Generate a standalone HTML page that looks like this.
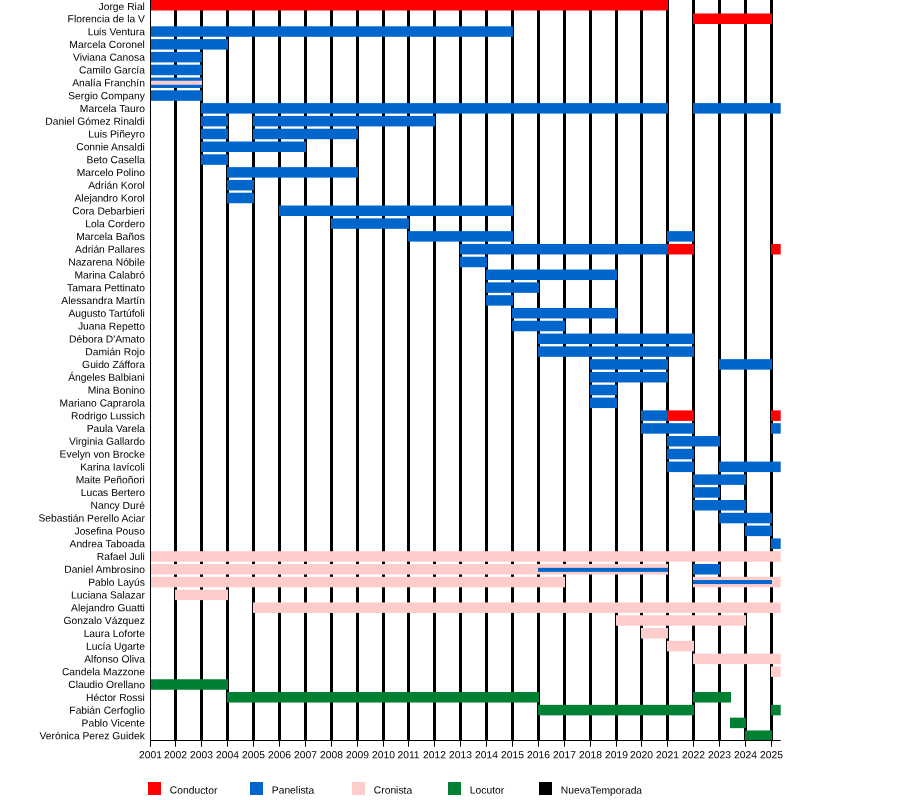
<!DOCTYPE html>
<html><head><meta charset="utf-8"><title>Timeline</title>
<style>html,body{margin:0;padding:0;background:#fff;width:900px;height:800px;overflow:hidden}svg{display:block;will-change:transform}</style>
</head><body>
<svg width="900" height="800" viewBox="0 0 900 800">
<rect width="900" height="800" fill="#fff"/>
<g>
<rect x="174" y="0" width="3" height="740" fill="#000"/>
<rect x="200" y="0" width="3" height="740" fill="#000"/>
<rect x="226" y="0" width="3" height="740" fill="#000"/>
<rect x="252" y="0" width="3" height="740" fill="#000"/>
<rect x="278" y="0" width="3" height="740" fill="#000"/>
<rect x="304" y="0" width="3" height="740" fill="#000"/>
<rect x="330" y="0" width="3" height="740" fill="#000"/>
<rect x="356" y="0" width="3" height="740" fill="#000"/>
<rect x="382" y="0" width="3" height="740" fill="#000"/>
<rect x="407" y="0" width="3" height="740" fill="#000"/>
<rect x="433" y="0" width="3" height="740" fill="#000"/>
<rect x="459" y="0" width="3" height="740" fill="#000"/>
<rect x="485" y="0" width="3" height="740" fill="#000"/>
<rect x="511" y="0" width="3" height="740" fill="#000"/>
<rect x="537" y="0" width="3" height="740" fill="#000"/>
<rect x="563" y="0" width="3" height="740" fill="#000"/>
<rect x="589" y="0" width="3" height="740" fill="#000"/>
<rect x="615" y="0" width="3" height="740" fill="#000"/>
<rect x="640" y="0" width="3" height="740" fill="#000"/>
<rect x="666" y="0" width="3" height="740" fill="#000"/>
<rect x="692" y="0" width="3" height="740" fill="#000"/>
<rect x="718" y="0" width="3" height="740" fill="#000"/>
<rect x="744" y="0" width="3" height="740" fill="#000"/>
<rect x="770" y="0" width="3" height="740" fill="#000"/>
<rect x="150" y="0.00" width="518.00" height="10.5" fill="#ff0000"/>
<rect x="693" y="13.48" width="79.00" height="10.5" fill="#ff0000"/>
<rect x="150" y="26.29" width="363.00" height="10.5" fill="#0066cc"/>
<rect x="150" y="39.09" width="78.00" height="10.5" fill="#0066cc"/>
<rect x="150" y="51.89" width="52.00" height="10.5" fill="#0066cc"/>
<rect x="150" y="64.70" width="52.00" height="10.5" fill="#0066cc"/>
<rect x="150" y="77.50" width="52.00" height="10.5" fill="#0066cc"/>
<rect x="150" y="80.75" width="52.00" height="4" fill="#ffcccc"/>
<rect x="150" y="90.30" width="52.00" height="10.5" fill="#0066cc"/>
<rect x="201" y="103.10" width="467.00" height="10.5" fill="#0066cc"/>
<rect x="693" y="103.10" width="87.70" height="10.5" fill="#0066cc"/>
<rect x="201" y="115.91" width="27.00" height="10.5" fill="#0066cc"/>
<rect x="253" y="115.91" width="182.00" height="10.5" fill="#0066cc"/>
<rect x="201" y="128.71" width="27.00" height="10.5" fill="#0066cc"/>
<rect x="253" y="128.71" width="105.00" height="10.5" fill="#0066cc"/>
<rect x="201" y="141.51" width="105.00" height="10.5" fill="#0066cc"/>
<rect x="201" y="154.32" width="27.00" height="10.5" fill="#0066cc"/>
<rect x="227" y="167.12" width="131.00" height="10.5" fill="#0066cc"/>
<rect x="227" y="179.92" width="27.00" height="10.5" fill="#0066cc"/>
<rect x="227" y="192.73" width="27.00" height="10.5" fill="#0066cc"/>
<rect x="279" y="205.53" width="234.00" height="10.5" fill="#0066cc"/>
<rect x="331" y="218.33" width="78.00" height="10.5" fill="#0066cc"/>
<rect x="408" y="231.13" width="105.00" height="10.5" fill="#0066cc"/>
<rect x="667" y="231.13" width="27.00" height="10.5" fill="#0066cc"/>
<rect x="460" y="243.94" width="208.00" height="10.5" fill="#0066cc"/>
<rect x="667" y="243.94" width="27.00" height="10.5" fill="#ff0000"/>
<rect x="771" y="243.94" width="9.70" height="10.5" fill="#ff0000"/>
<rect x="460" y="256.74" width="27.00" height="10.5" fill="#0066cc"/>
<rect x="486" y="269.54" width="131.00" height="10.5" fill="#0066cc"/>
<rect x="486" y="282.35" width="53.00" height="10.5" fill="#0066cc"/>
<rect x="486" y="295.15" width="27.00" height="10.5" fill="#0066cc"/>
<rect x="512" y="307.95" width="105.00" height="10.5" fill="#0066cc"/>
<rect x="512" y="320.76" width="53.00" height="10.5" fill="#0066cc"/>
<rect x="538" y="333.56" width="156.00" height="10.5" fill="#0066cc"/>
<rect x="538" y="346.36" width="156.00" height="10.5" fill="#0066cc"/>
<rect x="590" y="359.16" width="78.00" height="10.5" fill="#0066cc"/>
<rect x="719" y="359.16" width="53.00" height="10.5" fill="#0066cc"/>
<rect x="590" y="371.97" width="78.00" height="10.5" fill="#0066cc"/>
<rect x="590" y="384.77" width="27.00" height="10.5" fill="#0066cc"/>
<rect x="590" y="397.57" width="27.00" height="10.5" fill="#0066cc"/>
<rect x="641" y="410.38" width="27.00" height="10.5" fill="#0066cc"/>
<rect x="667" y="410.38" width="27.00" height="10.5" fill="#ff0000"/>
<rect x="771" y="410.38" width="9.70" height="10.5" fill="#ff0000"/>
<rect x="641" y="423.18" width="53.00" height="10.5" fill="#0066cc"/>
<rect x="771" y="423.18" width="9.70" height="10.5" fill="#0066cc"/>
<rect x="667" y="435.98" width="53.00" height="10.5" fill="#0066cc"/>
<rect x="667" y="448.79" width="27.00" height="10.5" fill="#0066cc"/>
<rect x="667" y="461.59" width="27.00" height="10.5" fill="#0066cc"/>
<rect x="719" y="461.59" width="61.70" height="10.5" fill="#0066cc"/>
<rect x="693" y="474.39" width="53.00" height="10.5" fill="#0066cc"/>
<rect x="693" y="487.19" width="27.00" height="10.5" fill="#0066cc"/>
<rect x="693" y="500.00" width="53.00" height="10.5" fill="#0066cc"/>
<rect x="719" y="512.80" width="53.00" height="10.5" fill="#0066cc"/>
<rect x="745" y="525.60" width="27.00" height="10.5" fill="#0066cc"/>
<rect x="771" y="538.41" width="9.70" height="10.5" fill="#0066cc"/>
<rect x="150" y="551.21" width="630.70" height="10.5" fill="#ffcccc"/>
<rect x="150" y="564.01" width="518.00" height="10.5" fill="#ffcccc"/>
<rect x="538" y="567.86" width="130.00" height="4" fill="#0066cc"/>
<rect x="693" y="564.01" width="27.00" height="10.5" fill="#0066cc"/>
<rect x="150" y="576.81" width="415.00" height="10.5" fill="#ffcccc"/>
<rect x="693" y="576.81" width="87.70" height="10.5" fill="#ffcccc"/>
<rect x="693" y="580.06" width="79.00" height="4" fill="#0066cc"/>
<rect x="175" y="589.62" width="53.00" height="10.5" fill="#ffcccc"/>
<rect x="253" y="602.42" width="527.70" height="10.5" fill="#ffcccc"/>
<rect x="616" y="615.22" width="130.00" height="10.5" fill="#ffcccc"/>
<rect x="641" y="628.03" width="27.00" height="10.5" fill="#ffcccc"/>
<rect x="667" y="640.83" width="27.00" height="10.5" fill="#ffcccc"/>
<rect x="693" y="653.63" width="87.70" height="10.5" fill="#ffcccc"/>
<rect x="771" y="666.44" width="9.70" height="10.5" fill="#ffcccc"/>
<rect x="150" y="679.24" width="78.00" height="10.5" fill="#008033"/>
<rect x="227" y="692.04" width="312.00" height="10.5" fill="#008033"/>
<rect x="693" y="692.04" width="38.00" height="10.5" fill="#008033"/>
<rect x="538" y="704.85" width="156.00" height="10.5" fill="#008033"/>
<rect x="771" y="704.85" width="9.70" height="10.5" fill="#008033"/>
<rect x="730" y="717.65" width="16.00" height="10.5" fill="#008033"/>
<rect x="745" y="730.45" width="27.00" height="10.5" fill="#008033"/>
<rect x="150" y="0" width="1" height="741" fill="#000"/>
<rect x="150" y="740" width="630.7" height="1" fill="#000"/>
<rect x="150" y="740" width="1" height="6.7" fill="#000"/>
<rect x="175" y="740" width="1" height="6.7" fill="#000"/>
<rect x="201" y="740" width="1" height="6.7" fill="#000"/>
<rect x="227" y="740" width="1" height="6.7" fill="#000"/>
<rect x="253" y="740" width="1" height="6.7" fill="#000"/>
<rect x="279" y="740" width="1" height="6.7" fill="#000"/>
<rect x="305" y="740" width="1" height="6.7" fill="#000"/>
<rect x="331" y="740" width="1" height="6.7" fill="#000"/>
<rect x="357" y="740" width="1" height="6.7" fill="#000"/>
<rect x="383" y="740" width="1" height="6.7" fill="#000"/>
<rect x="408" y="740" width="1" height="6.7" fill="#000"/>
<rect x="434" y="740" width="1" height="6.7" fill="#000"/>
<rect x="460" y="740" width="1" height="6.7" fill="#000"/>
<rect x="486" y="740" width="1" height="6.7" fill="#000"/>
<rect x="512" y="740" width="1" height="6.7" fill="#000"/>
<rect x="538" y="740" width="1" height="6.7" fill="#000"/>
<rect x="564" y="740" width="1" height="6.7" fill="#000"/>
<rect x="590" y="740" width="1" height="6.7" fill="#000"/>
<rect x="616" y="740" width="1" height="6.7" fill="#000"/>
<rect x="641" y="740" width="1" height="6.7" fill="#000"/>
<rect x="667" y="740" width="1" height="6.7" fill="#000"/>
<rect x="693" y="740" width="1" height="6.7" fill="#000"/>
<rect x="719" y="740" width="1" height="6.7" fill="#000"/>
<rect x="745" y="740" width="1" height="6.7" fill="#000"/>
<rect x="771" y="740" width="1" height="6.7" fill="#000"/>
</g>
<g font-family="Liberation Sans, Arial, sans-serif" font-size="10.3" fill="#000">
<text transform="translate(144.9 10.08) skewY(0.05)" text-anchor="end">Jorge Rial</text>
<text transform="translate(144.9 22.38) skewY(0.05)" text-anchor="end">Florencia de la V</text>
<text transform="translate(144.9 35.19) skewY(0.05)" text-anchor="end">Luis Ventura</text>
<text transform="translate(144.9 47.99) skewY(0.05)" text-anchor="end">Marcela Coronel</text>
<text transform="translate(144.9 60.79) skewY(0.05)" text-anchor="end">Viviana Canosa</text>
<text transform="translate(144.9 73.60) skewY(0.05)" text-anchor="end">Camilo García</text>
<text transform="translate(144.9 86.40) skewY(0.05)" text-anchor="end">Analía Franchín</text>
<text transform="translate(144.9 99.20) skewY(0.05)" text-anchor="end">Sergio Company</text>
<text transform="translate(144.9 112.00) skewY(0.05)" text-anchor="end">Marcela Tauro</text>
<text transform="translate(144.9 124.81) skewY(0.05)" text-anchor="end">Daniel Gómez Rinaldi</text>
<text transform="translate(144.9 137.61) skewY(0.05)" text-anchor="end">Luis Piñeyro</text>
<text transform="translate(144.9 150.41) skewY(0.05)" text-anchor="end">Connie Ansaldi</text>
<text transform="translate(144.9 163.22) skewY(0.05)" text-anchor="end">Beto Casella</text>
<text transform="translate(144.9 176.02) skewY(0.05)" text-anchor="end">Marcelo Polino</text>
<text transform="translate(144.9 188.82) skewY(0.05)" text-anchor="end">Adrián Korol</text>
<text transform="translate(144.9 201.63) skewY(0.05)" text-anchor="end">Alejandro Korol</text>
<text transform="translate(144.9 214.43) skewY(0.05)" text-anchor="end">Cora Debarbieri</text>
<text transform="translate(144.9 227.23) skewY(0.05)" text-anchor="end">Lola Cordero</text>
<text transform="translate(144.9 240.03) skewY(0.05)" text-anchor="end">Marcela Baños</text>
<text transform="translate(144.9 252.84) skewY(0.05)" text-anchor="end">Adrián Pallares</text>
<text transform="translate(144.9 265.64) skewY(0.05)" text-anchor="end">Nazarena Nóbile</text>
<text transform="translate(144.9 278.44) skewY(0.05)" text-anchor="end">Marina Calabró</text>
<text transform="translate(144.9 291.25) skewY(0.05)" text-anchor="end">Tamara Pettinato</text>
<text transform="translate(144.9 304.05) skewY(0.05)" text-anchor="end">Alessandra Martín</text>
<text transform="translate(144.9 316.85) skewY(0.05)" text-anchor="end">Augusto Tartúfoli</text>
<text transform="translate(144.9 329.66) skewY(0.05)" text-anchor="end">Juana Repetto</text>
<text transform="translate(144.9 342.46) skewY(0.05)" text-anchor="end">Débora D'Amato</text>
<text transform="translate(144.9 355.26) skewY(0.05)" text-anchor="end">Damián Rojo</text>
<text transform="translate(144.9 368.06) skewY(0.05)" text-anchor="end">Guido Záffora</text>
<text transform="translate(144.9 380.87) skewY(0.05)" text-anchor="end">Ángeles Balbiani</text>
<text transform="translate(144.9 393.67) skewY(0.05)" text-anchor="end">Mina Bonino</text>
<text transform="translate(144.9 406.47) skewY(0.05)" text-anchor="end">Mariano Caprarola</text>
<text transform="translate(144.9 419.28) skewY(0.05)" text-anchor="end">Rodrigo Lussich</text>
<text transform="translate(144.9 432.08) skewY(0.05)" text-anchor="end">Paula Varela</text>
<text transform="translate(144.9 444.88) skewY(0.05)" text-anchor="end">Virginia Gallardo</text>
<text transform="translate(144.9 457.69) skewY(0.05)" text-anchor="end">Evelyn von Brocke</text>
<text transform="translate(144.9 470.49) skewY(0.05)" text-anchor="end">Karina Iavícoli</text>
<text transform="translate(144.9 483.29) skewY(0.05)" text-anchor="end">Maite Peñoñori</text>
<text transform="translate(144.9 496.09) skewY(0.05)" text-anchor="end">Lucas Bertero</text>
<text transform="translate(144.9 508.90) skewY(0.05)" text-anchor="end">Nancy Duré</text>
<text transform="translate(144.9 521.70) skewY(0.05)" text-anchor="end">Sebastián Perello Aciar</text>
<text transform="translate(144.9 534.50) skewY(0.05)" text-anchor="end">Josefina Pouso</text>
<text transform="translate(144.9 547.31) skewY(0.05)" text-anchor="end">Andrea Taboada</text>
<text transform="translate(144.9 560.11) skewY(0.05)" text-anchor="end">Rafael Juli</text>
<text transform="translate(144.9 572.91) skewY(0.05)" text-anchor="end">Daniel Ambrosino</text>
<text transform="translate(144.9 585.71) skewY(0.05)" text-anchor="end">Pablo Layús</text>
<text transform="translate(144.9 598.52) skewY(0.05)" text-anchor="end">Luciana Salazar</text>
<text transform="translate(144.9 611.32) skewY(0.05)" text-anchor="end">Alejandro Guatti</text>
<text transform="translate(144.9 624.12) skewY(0.05)" text-anchor="end">Gonzalo Vázquez</text>
<text transform="translate(144.9 636.93) skewY(0.05)" text-anchor="end">Laura Loforte</text>
<text transform="translate(144.9 649.73) skewY(0.05)" text-anchor="end">Lucía Ugarte</text>
<text transform="translate(144.9 662.53) skewY(0.05)" text-anchor="end">Alfonso Oliva</text>
<text transform="translate(144.9 675.34) skewY(0.05)" text-anchor="end">Candela Mazzone</text>
<text transform="translate(144.9 688.14) skewY(0.05)" text-anchor="end">Claudio Orellano</text>
<text transform="translate(144.9 700.94) skewY(0.05)" text-anchor="end">Héctor Rossi</text>
<text transform="translate(144.9 713.75) skewY(0.05)" text-anchor="end">Fabián Cerfoglio</text>
<text transform="translate(144.9 726.55) skewY(0.05)" text-anchor="end">Pablo Vicente</text>
<text transform="translate(144.9 739.35) skewY(0.05)" text-anchor="end">Verónica Perez Guidek</text>
<text transform="translate(150.5 758.3) skewY(0.05)" text-anchor="middle">2001</text>
<text transform="translate(175.5 758.3) skewY(0.05)" text-anchor="middle">2002</text>
<text transform="translate(201.5 758.3) skewY(0.05)" text-anchor="middle">2003</text>
<text transform="translate(227.5 758.3) skewY(0.05)" text-anchor="middle">2004</text>
<text transform="translate(253.5 758.3) skewY(0.05)" text-anchor="middle">2005</text>
<text transform="translate(279.5 758.3) skewY(0.05)" text-anchor="middle">2006</text>
<text transform="translate(305.5 758.3) skewY(0.05)" text-anchor="middle">2007</text>
<text transform="translate(331.5 758.3) skewY(0.05)" text-anchor="middle">2008</text>
<text transform="translate(357.5 758.3) skewY(0.05)" text-anchor="middle">2009</text>
<text transform="translate(383.5 758.3) skewY(0.05)" text-anchor="middle">2010</text>
<text transform="translate(408.5 758.3) skewY(0.05)" text-anchor="middle">2011</text>
<text transform="translate(434.5 758.3) skewY(0.05)" text-anchor="middle">2012</text>
<text transform="translate(460.5 758.3) skewY(0.05)" text-anchor="middle">2013</text>
<text transform="translate(486.5 758.3) skewY(0.05)" text-anchor="middle">2014</text>
<text transform="translate(512.5 758.3) skewY(0.05)" text-anchor="middle">2015</text>
<text transform="translate(538.5 758.3) skewY(0.05)" text-anchor="middle">2016</text>
<text transform="translate(564.5 758.3) skewY(0.05)" text-anchor="middle">2017</text>
<text transform="translate(590.5 758.3) skewY(0.05)" text-anchor="middle">2018</text>
<text transform="translate(616.5 758.3) skewY(0.05)" text-anchor="middle">2019</text>
<text transform="translate(641.5 758.3) skewY(0.05)" text-anchor="middle">2020</text>
<text transform="translate(667.5 758.3) skewY(0.05)" text-anchor="middle">2021</text>
<text transform="translate(693.5 758.3) skewY(0.05)" text-anchor="middle">2022</text>
<text transform="translate(719.5 758.3) skewY(0.05)" text-anchor="middle">2023</text>
<text transform="translate(745.5 758.3) skewY(0.05)" text-anchor="middle">2024</text>
<text transform="translate(771.5 758.3) skewY(0.05)" text-anchor="middle">2025</text>
<rect x="148" y="782" width="13" height="13" fill="#ff0000"/>
<text transform="translate(169.8 793.6) skewY(0.05)">Conductor</text>
<rect x="250" y="782" width="13" height="13" fill="#0066cc"/>
<text transform="translate(271.8 793.6) skewY(0.05)">Panelista</text>
<rect x="352" y="782" width="13" height="13" fill="#ffcccc"/>
<text transform="translate(373.8 793.6) skewY(0.05)">Cronista</text>
<rect x="448" y="782" width="13" height="13" fill="#008033"/>
<text transform="translate(469.8 793.6) skewY(0.05)">Locutor</text>
<rect x="539" y="782" width="13" height="13" fill="#000"/>
<text transform="translate(560.8 793.6) skewY(0.05)">NuevaTemporada</text>
</g></svg>
</body></html>
